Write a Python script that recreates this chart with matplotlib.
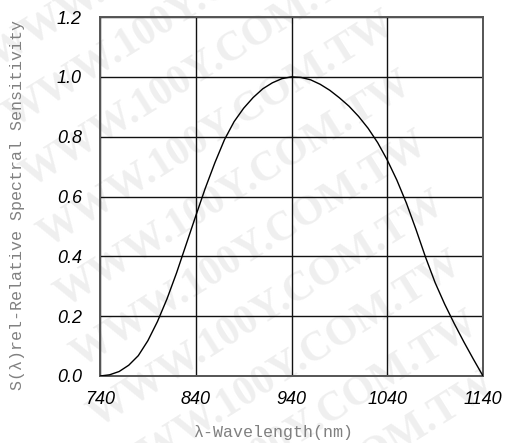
"""Relative spectral sensitivity curve of the photodiode."""

import matplotlib
matplotlib.use("Agg")
import matplotlib.pyplot as plt

wavelength_nm = [740, 750, 760, 770, 780, 790, 800, 810, 820, 830, 840,
                 850, 860, 870, 880, 890, 900, 910, 920, 930, 940,
                 950, 960, 970, 980, 990, 1000, 1010, 1020, 1030, 1040,
                 1050, 1060, 1070, 1080, 1090, 1100, 1110, 1120, 1130, 1140]
sensitivity = [0.0, 0.004, 0.015, 0.036, 0.068, 0.118, 0.182, 0.258, 0.345, 0.440, 0.535,
               0.628, 0.713, 0.790, 0.850, 0.895, 0.931, 0.960, 0.980, 0.994, 1.0,
               0.998, 0.990, 0.975, 0.955, 0.930, 0.902, 0.868, 0.828, 0.780, 0.722,
               0.655, 0.578, 0.490, 0.397, 0.312, 0.240, 0.175, 0.114, 0.056, 0.0]

x_ticks = [740, 840, 940, 1040, 1140]
y_ticks = [0.0, 0.2, 0.4, 0.6, 0.8, 1.0, 1.2]
y_tick_labels = ["0.0", "0.2", "0.4", "0.6", "0.8", "1.0", "1.2"]

W, H = 509, 443
fig = plt.figure(figsize=(W / 100, H / 100), dpi=100)
ax = fig.add_axes([100 / W, 1 - 376 / H, 383 / W, 359 / H])
ax.set_facecolor("none")

# faint diagonal watermark behind the plot
for k in range(-1, 9):
    yc = 10 + 60 * k
    xc = 180 + 0.28 * yc
    fig.text(xc / W, 1 - yc / H, "WWW.100Y.COM.TW",
             rotation=32, ha="center", va="center", fontsize=30,
             family="Liberation Serif", weight="bold", color="#efefef",
             zorder=-10)

ax.plot(wavelength_nm, sensitivity, color="black", lw=1.0, zorder=3)

ax.set_xlim(740, 1140)
ax.set_ylim(0, 1.2)
ax.set_xticks(x_ticks)
ax.set_yticks(y_ticks)
ax.set_yticklabels(y_tick_labels)
ax.grid(True, color="#111111", lw=1.0)
ax.tick_params(length=0)
ax.tick_params(axis="y", pad=13)
ax.tick_params(axis="x", pad=11)
for lab in ax.get_xticklabels() + ax.get_yticklabels():
    lab.set_family("Liberation Sans")
    lab.set_style("italic")
    lab.set_fontsize(13)
for s in ax.spines.values():
    s.set_color("#555555")
    s.set_linewidth(1.4)

fig.text(18 / W, 1 - 205 / H, "S(λ)rel-Relative Spectral Sensitivity",
         rotation=90, ha="center", va="center", fontsize=12,
         family="Liberation Mono", color="#808080")
fig.text(273 / W, 1 - 433 / H, "λ-Wavelength(nm)", ha="center", va="center",
         fontsize=12, family="Liberation Mono", color="#808080")

fig.savefig("out.png", dpi=100)
